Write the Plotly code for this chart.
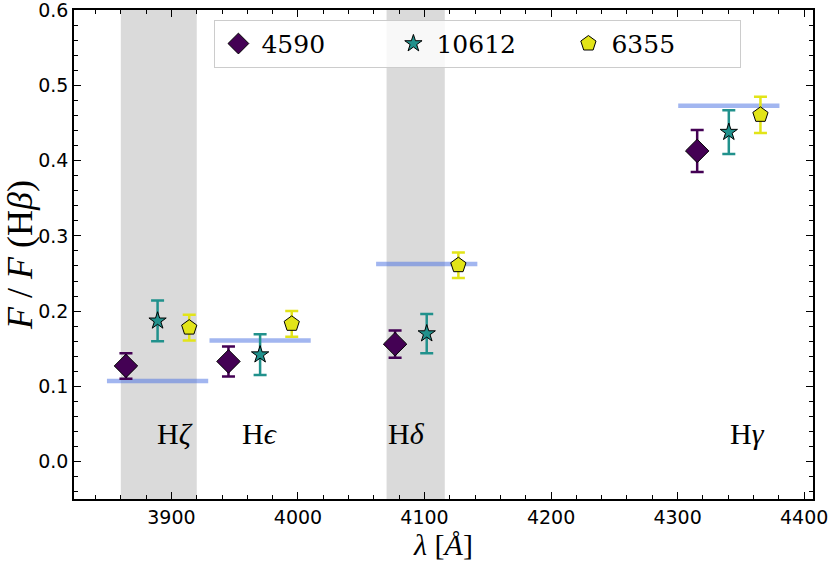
import plotly.graph_objects as go

# ---- data ----
line_names = ["H<i>ζ</i>", "H<i>ϵ</i>", "H<i>δ</i>", "H<i>γ</i>"]
line_wavelengths = [3889.05, 3970.07, 4101.74, 4340.47]
theory_ratio = [0.107, 0.161, 0.2625, 0.473]

series_names = ["4590", "10612", "6355"]
ratio_4590 = [0.127, 0.133, 0.156, 0.413]
err_4590 = [0.017, 0.020, 0.018, 0.028]
ratio_10612 = [0.187, 0.142, 0.170, 0.438]
err_10612 = [0.027, 0.027, 0.026, 0.029]
ratio_6355 = [0.178, 0.183, 0.261, 0.461]
err_6355 = [0.017, 0.017, 0.017, 0.024]

band_ranges = [(3860, 3920), (4070, 4116)]
label_x = [3903, 3970, 4086, 4355]
label_y = 0.037

# ---- style ----
offsets = [-25, 0, 25]
colors = ["#440154", "#21918c", "#e2e418"]
symbols = ["diamond", "star", "pentagon"]
sizes = [18, 13, 16]
half_width = 40
serif = "Liberation Serif"
legend_serif = "DejaVu Serif"
sans = "DejaVu Sans"

fig = go.Figure()

# theoretical lines
lx, ly = [], []
for c, v in zip(line_wavelengths, theory_ratio):
    lx += [c - half_width, c + half_width, None]
    ly += [v, v, None]
fig.add_trace(go.Scatter(x=lx, y=ly, mode="lines",
                         line=dict(color="rgba(70,110,225,0.5)", width=4.5),
                         showlegend=False, hoverinfo="skip"))

vals = [ratio_4590, ratio_10612, ratio_6355]
errs = [err_4590, err_10612, err_6355]
for name, v, e, off, col, sym, sz in zip(series_names, vals, errs, offsets, colors, symbols, sizes):
    fig.add_trace(go.Scatter(
        x=[w + off for w in line_wavelengths], y=v, mode="markers", name=name,
        marker=dict(symbol=sym, size=sz, color=col, line=dict(color="black", width=1)),
        error_y=dict(type="data", array=e, color=col, thickness=2.5, width=6.5),
    ))

for x0, x1 in band_ranges:
    fig.add_shape(type="rect", xref="x", yref="paper", x0=x0, x1=x1, y0=0, y1=1,
                  fillcolor="#dadada", line=dict(width=0), layer="below")

for name, x in zip(line_names, label_x):
    fig.add_annotation(x=x, y=label_y, xref="x", yref="y", text=name, showarrow=False,
                       font=dict(family=serif, size=30, color="black"))

axis_common = dict(showline=True, linecolor="black", linewidth=1.5, mirror="allticks",
                   ticks="inside", ticklen=7, tickwidth=1.3, tickcolor="black",
                   showgrid=False, zeroline=False, automargin=False,
                   ticklabeloverflow="allow",
                   tickfont=dict(family=sans, size=19, color="black"))

fig.update_xaxes(range=[3823, 4407], dtick=100, tick0=3800,
                 minor=dict(ticks="inside", ticklen=4, tickwidth=1, dtick=20, tick0=3800,
                            tickcolor="black", showgrid=False),
                 title=dict(text="<i>λ</i> [<i>Å</i>]", font=dict(family=serif, size=30, color="black"),
                            standoff=2),
                 **axis_common)
fig.update_yaxes(range=[-0.05, 0.6005], dtick=0.1, tick0=0, tickformat=".1f",
                 minor=dict(ticks="inside", ticklen=4, tickwidth=1, dtick=0.02, tick0=0,
                            tickcolor="black", showgrid=False),
                 title=dict(text="<i>F</i> / <i>F</i> (H<i>β</i>)", font=dict(family=serif, size=36, color="black"),
                            standoff=2),
                 **axis_common)

fig.update_layout(
    width=831, height=567,
    margin=dict(l=74, r=18, t=10, b=68),
    font=dict(family=serif, color="black"),
    paper_bgcolor="white", plot_bgcolor="white",
    legend=dict(orientation="h", x=0.19, y=0.98, xanchor="left", yanchor="top",
                font=dict(family=legend_serif, size=25, color="black"),
                bgcolor="rgba(255,255,255,0.8)", bordercolor="#cccccc", borderwidth=1,
                entrywidth=124, entrywidthmode="pixels", itemsizing="trace",
                itemwidth=36, tracegroupgap=0),
)

fig.write_html("out.html", config={"displayModeBar": False},
               post_script="document.body.style.margin='0';")
